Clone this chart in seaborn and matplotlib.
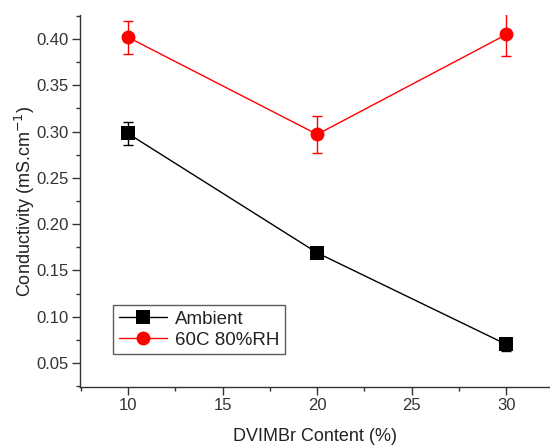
import matplotlib
matplotlib.use("Agg")
import matplotlib.pyplot as plt
import seaborn as sns
import pandas as pd
from matplotlib.ticker import MultipleLocator

content = [10, 20, 30]
ambient = [0.298, 0.169, 0.070]
ambient_err = [0.012, 0.004, 0.007]
humid = [0.402, 0.297, 0.405]
humid_err = [0.018, 0.020, 0.023]
labels = ["Ambient", "60C 80%RH"]

sns.set_style("ticks")
plt.rcParams['font.family'] = ['Liberation Sans', 'DejaVu Sans']

df = pd.DataFrame({
    "x": content * 2,
    "y": ambient + humid,
    "series": [labels[0]] * 3 + [labels[1]] * 3,
})

fig = plt.figure(figsize=(5.5, 4.48), dpi=100)
ax = fig.add_axes([80/550, 61/448, 470/550, 372/448])

palette = {labels[0]: "black", labels[1]: "#ff0000"}
sns.lineplot(data=df, x="x", y="y", hue="series", style="series",
             markers={labels[0]: "s", labels[1]: "o"}, dashes=False,
             palette=palette, markersize=10, linewidth=1, ax=ax,
             markeredgewidth=0, zorder=3)
ax.errorbar(content, ambient, yerr=ambient_err, fmt="none", ecolor="black",
            elinewidth=1, capsize=3.5, capthick=1, zorder=2)
ax.errorbar(content, humid, yerr=humid_err, fmt="none", ecolor="#ff0000",
            elinewidth=1, capsize=3.5, capthick=1, zorder=2)

ax.set_xlim(7.47, 32.3)
ax.set_ylim(0.024, 0.426)
ax.set_xticks([10, 15, 20, 25, 30])
yt = [0.05, 0.10, 0.15, 0.20, 0.25, 0.30, 0.35, 0.40]
ax.set_yticks(yt)
ax.set_yticklabels([f"{v:.2f}" for v in yt])
ax.xaxis.set_minor_locator(MultipleLocator(2.5))
ax.yaxis.set_minor_locator(MultipleLocator(0.025))
ax.tick_params(axis="both", which="major", length=5.5, width=1, labelsize=12,
               colors="#333333", labelcolor="#333333", pad=2.5)
ax.tick_params(axis="both", which="minor", length=3, width=1, colors="#333333")
for s in ["top", "right"]:
    ax.spines[s].set_visible(False)
for s in ["left", "bottom"]:
    ax.spines[s].set_color("#333333")
    ax.spines[s].set_linewidth(1)

ax.set_xlabel("DVIMBr Content (%)", fontsize=13, color="#222222", labelpad=11)
ax.set_ylabel("Conductivity (mS.cm$^{-1}$)", fontsize=13, color="#222222", labelpad=0)

leg = ax.legend(loc="upper left", bbox_to_anchor=(33/470, 1 - (305-15)/372),
                frameon=True, fancybox=False, edgecolor="#333333",
                fontsize=13.5, handlelength=2.6, borderpad=0.3, labelspacing=0.2,
                handletextpad=0.4, borderaxespad=0, title=None)
leg.get_frame().set_linewidth(1)
for t in leg.get_texts():
    t.set_color("#222222")

fig.savefig("out.png", dpi=100)
